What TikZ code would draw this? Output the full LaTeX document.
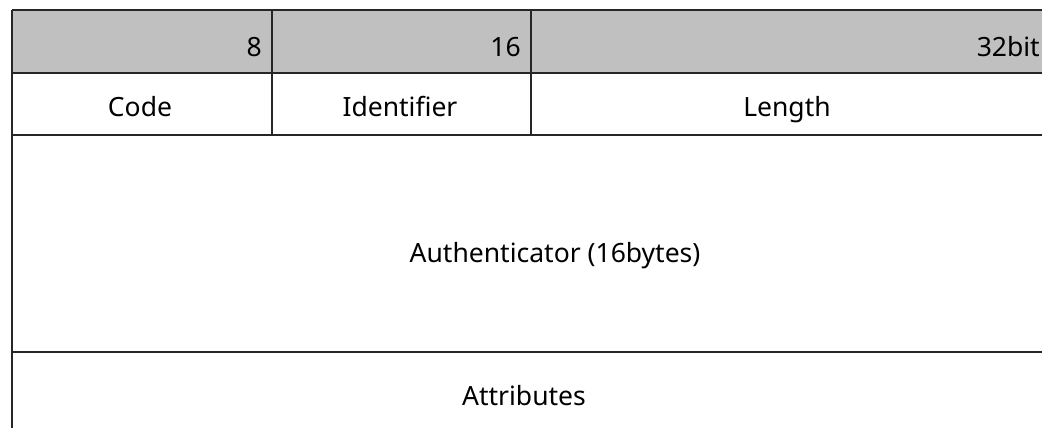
\documentclass[tikz,border=0pt]{standalone}
\usepackage{fontspec}
\setmainfont{Noto Sans}
\begin{document}
\begin{tikzpicture}[x=1pt,y=-1pt,
  rule/.style={line width=2pt,draw=black!85},
  lbl/.style={inner sep=0pt,font=\fontsize{26.5}{30}\selectfont,text=black}]
\useasboundingbox (0,0) rectangle (1042,428);
\fill[fill={rgb,255:red,192;green,192;blue,192}] (12,10) rectangle (1042,73);
\coordinate (tl) at (12,10);
\coordinate (tr) at (1042,10);
\coordinate (h1l) at (12,73);
\coordinate (h1r) at (1042,73);
\coordinate (h2l) at (12,135);
\coordinate (h2r) at (1042,135);
\coordinate (h3l) at (12,352);
\coordinate (h3r) at (1042,352);
\coordinate (bl) at (12,428);
\coordinate (c1t) at (272,10);
\coordinate (c1b) at (272,135);
\coordinate (c2t) at (531,10);
\coordinate (c2b) at (531,135);
\draw[rule] (tl) -- (tr);
\draw[rule] (h1l) -- (h1r);
\draw[rule] (h2l) -- (h2r);
\draw[rule] (h3l) -- (h3r);
\draw[rule] (tl) -- (bl);
\draw[rule] (c1t) -- (c1b);
\draw[rule] (c2t) -- (c2b);
\node[lbl,anchor=base east] (b8) at (262,57) {8};
\node[lbl,anchor=base east] (b16) at (521,57) {16};
\node[lbl,anchor=base east] (b32) at (1040,57) {32bit};
\node[lbl,anchor=base] (code) at (140,117) {Code};
\node[lbl,anchor=base] (ident) at (400,117) {Identifier};
\node[lbl,anchor=base] (len) at (787,117) {Length};
\node[lbl,anchor=base] (auth) at (555,262) {Authenticator (16bytes)};
\node[lbl,anchor=base] (attr) at (524,405) {Attributes};
\end{tikzpicture}
\end{document}
